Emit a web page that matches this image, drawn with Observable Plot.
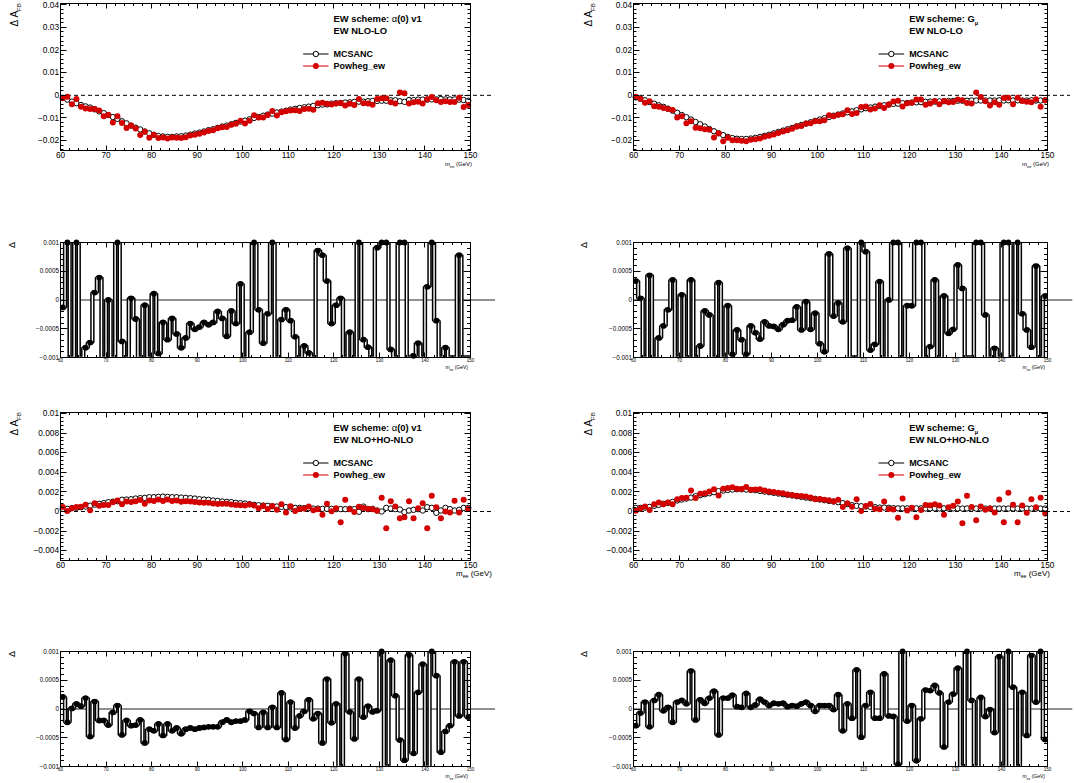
<!DOCTYPE html>
<html><head><meta charset="utf-8">
<script src="https://cdn.jsdelivr.net/npm/d3@7"></script>
<script src="https://cdn.jsdelivr.net/npm/@observablehq/plot@0.6"></script>
<style>
body{margin:0;background:#fff;}
#wrap{position:relative;width:1074px;height:783px;overflow:hidden;background:#fff;font-family:"Liberation Sans",Arial,sans-serif;}
#wrap svg{position:absolute;overflow:visible;}
</style></head><body><div id="wrap"></div>
<script>
// ---------------- data ----------------
const massCenters = [60.5,61.5,62.5,63.5,64.5,65.5,66.5,67.5,68.5,69.5,70.5,71.5,72.5,73.5,74.5,75.5,76.5,77.5,78.5,79.5,
80.5,81.5,82.5,83.5,84.5,85.5,86.5,87.5,88.5,89.5,90.5,91.5,92.5,93.5,94.5,95.5,96.5,97.5,98.5,99.5,
100.5,101.5,102.5,103.5,104.5,105.5,106.5,107.5,108.5,109.5,110.5,111.5,112.5,113.5,114.5,115.5,116.5,117.5,118.5,119.5,
120.5,121.5,122.5,123.5,124.5,125.5,126.5,127.5,128.5,129.5,130.5,131.5,132.5,133.5,134.5,135.5,136.5,137.5,138.5,139.5,
140.5,141.5,142.5,143.5,144.5,145.5,146.5,147.5,148.5,149.5];
const binHalfWidth = 0.5;
const xTickLabels = [60,70,80,90,100,110,120,130,140,150];

// alpha(0) v1, NLO-LO
const alphaNloMcsanc = [-0.0012,-0.0019,-0.0028,-0.0035,-0.0043,-0.0049,-0.0054,-0.0062,-0.0071,-0.0079,
-0.0087,-0.0096,-0.0104,-0.0115,-0.0124,-0.0134,-0.0143,-0.0151,-0.016,-0.0168,
-0.0175,-0.018,-0.0182,-0.0184,-0.0184,-0.0182,-0.0181,-0.0178,-0.0174,-0.0169,
-0.0165,-0.016,-0.0154,-0.015,-0.0144,-0.0138,-0.0134,-0.0128,-0.0122,-0.0116,
-0.0112,-0.0106,-0.01,-0.0096,-0.009,-0.0085,-0.0081,-0.0076,-0.0072,-0.0068,
-0.0063,-0.006,-0.0056,-0.0053,-0.005,-0.0047,-0.0044,-0.0041,-0.004,-0.0037,
-0.0035,-0.0034,-0.0032,-0.0031,-0.0029,-0.0028,-0.0028,-0.0026,-0.0025,-0.0025,
-0.0024,-0.0024,-0.0022,-0.0022,-0.0026,-0.0029,-0.0021,-0.0021,-0.0019,-0.0019,
-0.0019,-0.0018,-0.0018,-0.0016,-0.0018,-0.0018,-0.0018,-0.0019,-0.0021,-0.0024];
const alphaNloPowheg = [-0.0012,-0.0006,-0.004,-0.0016,-0.005,-0.0058,-0.0061,-0.006,-0.0067,-0.0093,
-0.0087,-0.012,-0.0093,-0.0122,-0.0145,-0.0134,-0.0147,-0.0175,-0.0161,-0.0188,
-0.0174,-0.0189,-0.0186,-0.0191,-0.0187,-0.0188,-0.0189,-0.0185,-0.0178,-0.0174,
-0.017,-0.0164,-0.0158,-0.0154,-0.0146,-0.0141,-0.014,-0.013,-0.0126,-0.0113,
-0.0125,-0.0112,-0.0088,-0.0098,-0.0098,-0.0087,-0.0069,-0.0089,-0.0075,-0.007,
-0.0067,-0.0066,-0.0069,-0.0061,-0.0059,-0.0064,-0.0035,-0.0033,-0.0037,-0.0041,
-0.0036,-0.0034,-0.0045,-0.0037,-0.0043,-0.0016,-0.0035,-0.0036,-0.0042,-0.0016,
-0.0013,-0.0013,-0.0031,-0.0036,0.0012,0.0009,-0.0036,-0.0031,-0.0028,-0.0036,
-0.0017,-0.0007,-0.0022,-0.003,-0.0026,-0.003,-0.003,-0.0011,-0.0052,-0.0043];
const alphaNloDelta = [-0.00013,0.0012,-0.0012,0.0012,-0.0012,-0.00083,-0.00074,0.00013,0.00039,-0.0012,
0.0,-0.0012,0.0012,-0.00072,-0.0012,0.00003,-0.00033,-0.0012,-0.00009,-0.0012,
0.00011,-0.00093,-0.00039,-0.00069,-0.00032,-0.00059,-0.00083,-0.00066,-0.00041,-0.00051,
-0.00047,-0.00039,-0.00043,-0.00039,-0.0002,-0.00032,-0.00063,-0.00019,-0.00041,0.00028,
-0.0012,-0.00056,0.0012,-0.00017,-0.00075,-0.00024,0.0012,-0.0012,-0.00034,-0.00017,
-0.00036,-0.00064,-0.0012,-0.0008,-0.00092,-0.0012,0.00086,0.00078,0.00033,-0.00041,
-0.00009,0.00003,-0.0012,-0.00056,-0.0012,0.0012,-0.00069,-0.00082,-0.0012,0.00091,
0.0012,0.0012,-0.00086,-0.0012,0.0012,0.0012,-0.0012,-0.00097,-0.00075,-0.0012,
0.00023,0.0012,-0.00036,-0.0012,-0.00083,-0.0012,-0.0012,0.00078,-0.0012,-0.0012];

// G_mu, NLO-LO
const gmuNloMcsanc = [-0.0009,-0.0015,-0.0022,-0.003,-0.0037,-0.0044,-0.0051,-0.0059,-0.0068,-0.0077,
-0.0087,-0.0097,-0.0107,-0.0118,-0.0128,-0.0138,-0.0149,-0.0159,-0.0168,-0.0176,
-0.0184,-0.0189,-0.0192,-0.0193,-0.0193,-0.0191,-0.0188,-0.0184,-0.0179,-0.0174,
-0.0168,-0.0162,-0.0156,-0.015,-0.0144,-0.0137,-0.0131,-0.0125,-0.0119,-0.0113,
-0.0107,-0.0101,-0.0096,-0.009,-0.0085,-0.008,-0.0075,-0.0071,-0.0066,-0.0062,
-0.0057,-0.0054,-0.005,-0.0047,-0.0044,-0.0041,-0.0038,-0.0037,-0.0035,-0.0034,
-0.0032,-0.0031,-0.003,-0.0029,-0.0028,-0.0028,-0.0027,-0.0026,-0.0025,-0.0025,
-0.0024,-0.0024,-0.0024,-0.0023,-0.0023,-0.0023,-0.0023,-0.0023,-0.0023,-0.0022,
-0.0023,-0.0022,-0.0023,-0.0022,-0.0023,-0.0023,-0.0022,-0.0023,-0.0023,-0.0022];
const gmuNloPowheg = [-0.0006,-0.0015,-0.0033,-0.0026,-0.0048,-0.0051,-0.0056,-0.0061,-0.0065,-0.0098,
-0.0093,-0.0124,-0.0115,-0.0143,-0.0146,-0.015,-0.0152,-0.0186,-0.0168,-0.0203,
-0.0188,-0.0199,-0.0199,-0.0201,-0.0203,-0.0196,-0.0194,-0.0191,-0.0183,-0.0179,
-0.0173,-0.0167,-0.016,-0.0154,-0.0148,-0.0138,-0.0136,-0.0125,-0.0124,-0.0115,
-0.0115,-0.011,-0.0088,-0.0093,-0.0086,-0.0084,-0.0066,-0.0083,-0.0078,-0.0052,
-0.0049,-0.0063,-0.0058,-0.0044,-0.0056,-0.0041,-0.0027,-0.0024,-0.0049,-0.0035,
-0.0033,-0.0019,-0.0019,-0.0042,-0.0036,-0.0025,-0.004,-0.0025,-0.0031,-0.003,
-0.0018,-0.0022,-0.0034,-0.0036,0.0012,-0.0007,-0.0026,-0.0045,-0.0031,-0.0042,
-0.0012,-0.0011,-0.004,-0.0011,-0.0025,-0.0028,-0.0031,-0.0017,-0.0051,-0.0022];
const gmuNloDelta = [0.00033,0.00003,-0.0012,0.00043,-0.0012,-0.00066,-0.00045,-0.00017,0.00035,-0.0012,
0.00009,-0.0012,0.00035,-0.0012,-0.0008,-0.00019,-0.00026,-0.0012,0.0003,-0.0012,
-0.0001,-0.00094,-0.00052,-0.00069,-0.00094,-0.00045,-0.00057,-0.00068,-0.00038,-0.00045,
-0.00046,-0.00051,-0.00043,-0.00036,-0.00035,-0.00012,-0.00052,-0.00003,-0.00051,-0.00023,
-0.00076,-0.0009,0.0008,-0.00028,-0.00005,-0.00038,0.0009,-0.0012,-0.0012,0.0012,
0.00084,-0.00087,-0.00077,0.00032,-0.0012,0.0,0.0012,0.0012,-0.0012,-0.0001,
-0.0001,0.0012,0.0012,-0.0012,-0.00081,0.00035,-0.0012,0.00007,-0.00058,-0.00051,
0.00061,0.0002,-0.0012,-0.0012,0.0012,0.0012,-0.00026,-0.0012,-0.00084,-0.0012,
0.0012,0.0012,-0.0012,0.0012,-0.00024,-0.00052,-0.00082,0.00059,-0.0012,0.00007];

// alpha(0) v1, NLO+HO-NLO
const alphaHoMcsanc = [0.00027,0.00027,0.00034,0.00037,0.00044,0.0005,0.0006,0.0007,0.00078,0.00085,
0.00095,0.001,0.00105,0.0012,0.00122,0.00125,0.00132,0.00136,0.00139,0.00146,
0.00146,0.00149,0.00152,0.00149,0.00146,0.00146,0.00142,0.00139,0.00136,0.00132,
0.00125,0.00122,0.00119,0.00112,0.00108,0.00102,0.00098,0.00095,0.00088,0.00085,
0.00081,0.00075,0.00068,0.00064,0.00061,0.00058,0.00054,0.00051,0.00047,0.00044,
0.00041,0.00037,0.00037,0.00034,0.00034,0.0003,0.0003,0.00027,0.00027,0.00027,
0.00024,0.00024,0.00024,0.00027,0.00024,-0.00003,0.0005,0.00024,0.00027,0.0001,
0.0,0.00037,0.0003,0.00024,0.0002,-0.00007,0.0001,0.00017,0.00024,0.0001,
0.00044,0.00037,-0.00014,0.0001,0.00037,0.00024,0.0001,0.00017,0.00037,0.00037];
const alphaHoPowheg = [0.00045,0.00004,0.00034,0.00046,0.00049,0.00069,0.00012,0.00083,0.00058,0.00065,
0.00067,0.00094,0.00111,0.00075,0.00102,0.00096,0.00104,0.00117,0.0008,0.00111,
0.00108,0.00123,0.00106,0.00123,0.00108,0.00113,0.00099,0.00104,0.00103,0.00097,
0.00092,0.0009,0.00088,0.00081,0.00077,0.00079,0.00079,0.00072,0.00067,0.00064,
0.00062,0.00071,0.0006,0.00032,0.00055,0.00026,0.00057,0.00019,0.00075,-0.00009,
0.00053,0.00004,0.00025,0.0003,0.0005,0.00013,0.00022,-0.00032,0.00079,0.00003,
0.00033,-0.0011,0.0012,0.00022,-0.00005,0.00049,0.00036,0.00029,0.00022,0.00007,
0.0014,-0.0017,0.00105,0.0005,-0.0007,-0.0006,0.00105,-0.0007,0.00033,0.00085,
-0.0017,0.0016,0.00044,-0.00068,0.0,-0.0001,0.0011,-0.0001,0.0012,0.00025];
const alphaHoDelta = [0.00021,-0.00023,0.00001,0.00009,0.00005,0.00019,-0.00048,0.00013,-0.0002,-0.0002,
-0.00028,-0.00006,0.00006,-0.00045,-0.0002,-0.00029,-0.00028,-0.00019,-0.00059,-0.00035,
-0.00038,-0.00026,-0.00046,-0.00026,-0.00038,-0.00033,-0.00043,-0.00035,-0.00033,-0.00035,
-0.00033,-0.00032,-0.00031,-0.00031,-0.00031,-0.00023,-0.00019,-0.00023,-0.00021,-0.00021,
-0.00019,-0.00004,-0.00008,-0.00032,-0.00006,-0.00032,0.00003,-0.00032,0.00028,-0.00053,
0.00012,-0.00033,-0.00012,-0.00004,0.00016,-0.00017,-0.00008,-0.00059,0.00052,-0.00024,
0.00009,-0.0012,0.00096,-0.00005,-0.00052,0.00052,-0.00014,0.00005,-0.00005,-0.00003,
0.0012,-0.0012,0.00085,0.00023,-0.00054,-0.00089,0.00094,-0.00077,0.00029,0.00078,
-0.0012,0.0012,0.00058,-0.00075,-0.00039,-0.00029,0.00082,-0.00012,0.00082,-0.00014];

// G_mu, NLO+HO-NLO
const gmuHoMcsanc = [0.00037,0.00037,0.0004,0.00047,0.00058,0.00068,0.00078,0.00088,0.00098,0.00112,
0.00122,0.00132,0.00142,0.00156,0.00166,0.00176,0.00186,0.00197,0.00207,0.00214,
0.0022,0.00224,0.00227,0.00227,0.00224,0.0022,0.00217,0.0021,0.00203,0.00197,
0.0019,0.00183,0.00176,0.0017,0.00163,0.00156,0.00149,0.00142,0.00136,0.00129,
0.00122,0.00115,0.00108,0.00102,0.00095,0.00085,0.00075,0.00064,0.00058,0.00054,
0.00051,0.00047,0.00044,0.0004,0.0004,0.00037,0.00034,0.00032,0.00032,0.00032,
0.00031,0.00032,0.00032,0.00031,0.00032,0.00031,0.00031,0.00032,0.00031,0.00031,
0.00031,0.0003,0.00031,0.0003,0.0003,0.00031,0.0003,0.0003,0.0003,0.0003,
0.0003,0.0003,0.0003,0.0003,0.0003,0.0003,0.0003,0.0003,0.0003,0.0003];
const gmuHoPowheg = [0.00008,0.0003,0.00052,0.00016,0.00073,0.00093,0.00075,0.00091,0.00075,0.00124,
0.00137,0.00141,0.00215,0.00137,0.00182,0.00186,0.00205,0.00228,0.00162,0.00233,
0.00239,0.00248,0.00231,0.0023,0.00251,0.00223,0.00224,0.00227,0.00215,0.00203,
0.002,0.00192,0.00186,0.00174,0.00169,0.00161,0.00158,0.00154,0.00142,0.00125,
0.00128,0.00121,0.00114,0.00101,0.0012,0.00047,0.00084,0.00048,0.00126,0.00005,
0.00057,0.00076,0.00028,0.00024,0.00101,0.00025,0.0002,-0.00064,0.00133,0.00011,
0.00038,-0.00058,0.00015,0.00065,0.00064,0.00073,0.0006,-0.00034,0.00044,0.00058,
0.00103,-0.0012,0.0016,0.00047,-0.0009,0.00052,0.00019,0.00031,-0.00009,0.00123,
-0.0011,0.0019,0.0007,-0.0011,0.00061,-0.00014,0.00125,0.00044,0.0014,-0.00021];
const gmuHoDelta = [-0.00029,-0.00007,0.00012,-0.00031,0.00015,0.00025,-0.00003,0.00003,-0.00023,0.00012,
0.00015,0.00009,0.00066,-0.00019,0.00016,0.0001,0.00019,0.00031,-0.00045,0.00019,
0.00019,0.00024,0.00004,0.00003,0.00027,0.00003,0.00007,0.00017,0.00012,0.00006,
0.0001,0.00009,0.0001,0.00004,0.00006,0.00005,0.00009,0.00012,0.00006,-0.00004,
0.00006,0.00006,0.00006,-0.00001,0.00025,-0.00038,0.00009,-0.00016,0.00068,-0.00049,
0.00006,0.00029,-0.00016,-0.00016,0.00061,-0.00012,-0.00013,-0.00096,0.0012,-0.00021,
0.00006,-0.0009,-0.00017,0.00033,0.00032,0.00041,0.00028,-0.00066,0.00012,0.00026,
0.00071,-0.0012,0.0012,0.00015,-0.0012,0.0002,-0.00013,-0.00001,-0.00041,0.00091,
-0.0012,0.0012,0.00038,-0.0012,0.00029,-0.00046,0.00093,0.00012,0.0012,-0.00053];

const yTicksNlo = [-0.02,-0.01,0,0.01,0.02,0.03,0.04];
const yTicksHo = [-0.004,-0.002,0,0.002,0.004,0.006,0.008,0.01];
const yTicksDelta = [-0.001,-0.0005,0,0.0005,0.001];
const schemeLabels = ["EW scheme: ", "EW scheme: G"];
const orderLabels = ["EW NLO-LO", "EW NLO+HO-NLO"];
const seriesNames = ["MCSANC", "Powheg_ew"];

// ---------------- layout / helpers ----------------
const FONT = "Liberation Sans, Arial, Helvetica, sans-serif";
const RED = "#d40000";
const wrap = document.getElementById("wrap");
const cols = [{left: 0, width: 537, ml: 60, mr: 67}, {left: 537, width: 537, ml: 96, mr: 27}];
const rows = [
  {top: 0, height: 200, mt: 3, mb: 50},
  {top: 200, height: 200, mt: 42, mb: 43},
  {top: 400, height: 200, mt: 12, mb: 40},
  {top: 600, height: 183, mt: 51, mb: 17}
];
const fmt = d => d === 0 ? "0" : (d < 0 ? "\u2212" + String(+(-d).toPrecision(6)) : String(+d.toPrecision(6)));

function minorTicks(domain, step) {
  const out = [];
  const n0 = Math.ceil(domain[0] / step - 1e-9), n1 = Math.floor(domain[1] / step + 1e-9);
  for (let k = n0; k <= n1; k++) out.push(k * step);
  return out;
}

function deco(draw) {
  return (index, scales, values, dims) => {
    const g = d3.create("svg:g").attr("text-anchor", "start");
    draw(g, scales, dims);
    return g.node();
  };
}

function frameTicks(cfg) {
  return deco((g, {x, y}, d) => {
    const L = d.marginLeft, R = d.width - d.marginRight, T = d.marginTop, B = d.height - d.marginBottom;
    const p = d3.path();
    const xs = (vals, len) => { for (const v of vals) { const px = Math.round(x(v)); p.moveTo(px, B); p.lineTo(px, B - len); p.moveTo(px, T); p.lineTo(px, T + len); } };
    const ys = (vals, len) => { for (const v of vals) { const py = Math.round(y(v)); p.moveTo(L, py); p.lineTo(L + len, py); p.moveTo(R, py); p.lineTo(R - len, py); } };
    xs(cfg.xMinor, cfg.xMinLen); xs(cfg.xMajor, cfg.xMajLen);
    ys(cfg.yMinor, cfg.yMinLen); ys(cfg.yMajor, cfg.yMajLen);
    g.append("path").attr("d", p.toString()).attr("stroke", "#000").attr("fill", "none")
      .attr("stroke-width", 1).attr("transform", "translate(0.5,0.5)");
  });
}

function yTitle(x, fs, withSub) {
  return deco((g, s, d) => {
    const t = g.append("text").attr("transform", `translate(${x},${d.marginTop}) rotate(-90)`)
      .attr("text-anchor", "end").attr("font-size", fs).attr("font-family", FONT).attr("fill", "#000");
    if (withSub) {
      t.append("tspan").text("\u0394 A");
      t.append("tspan").attr("font-size", fs * 0.62).attr("dy", fs * 0.3).text("FB");
    } else {
      t.text("\u0394");
    }
  });
}

function xTitle(dxEnd, dy, fs) {
  return deco((g, s, d) => {
    const R = d.width - d.marginRight, B = d.height - d.marginBottom;
    const t = g.append("text").attr("x", R + dxEnd).attr("y", B + dy)
      .attr("text-anchor", "end").attr("font-size", fs).attr("font-family", FONT).attr("fill", "#000");
    t.append("tspan").text("m");
    t.append("tspan").attr("font-size", fs * 0.65).attr("dy", fs * 0.3).text("ee");
    t.append("tspan").attr("dy", -fs * 0.3).text(" (GeV)");
  });
}

function legendBox(scheme, order) {
  return deco((g, s, d) => {
    const L = d.marginLeft, R = d.width - d.marginRight, T = d.marginTop;
    const fw = R - L;
    const tx = L + 0.667 * fw, lx0 = L + 0.593 * fw, lx1 = L + 0.655 * fw, cx = (lx0 + lx1) / 2;
    const txt = (y, fs) => g.append("text").attr("x", tx).attr("y", y).attr("dy", "0.35em")
      .attr("text-anchor", "start")
      .attr("font-size", fs).attr("font-weight", "bold").attr("font-family", FONT).attr("fill", "#000");
    const t1 = txt(T + 16, 9.4);
    if (scheme === 0) {
      t1.append("tspan").text(schemeLabels[0]);
      t1.append("tspan").attr("font-weight", "normal").text("\u03b1");
      t1.append("tspan").text("(0) v1");
    } else {
      t1.append("tspan").text(schemeLabels[1]);
      t1.append("tspan").attr("font-size", 5.5).attr("dy", 2.5).text("\u03bc");
    }
    txt(T + 27.5, 9.4).text(orderLabels[order]);
    // legend entries
    const y1 = T + 51, y2 = T + 63;
    g.append("line").attr("x1", lx0).attr("x2", lx1).attr("y1", y1).attr("y2", y1).attr("stroke", "#000").attr("stroke-width", 1);
    g.append("circle").attr("cx", cx).attr("cy", y1).attr("r", 2.7).attr("fill", "#fff").attr("stroke", "#000").attr("stroke-width", 1);
    txt(y1, 9).text(seriesNames[0]);
    g.append("line").attr("x1", lx0).attr("x2", lx1).attr("y1", y2).attr("y2", y2).attr("stroke", "#e05050").attr("stroke-width", 1.5);
    g.append("circle").attr("cx", cx).attr("cy", y2).attr("r", 3).attr("fill", RED);
    txt(y2, 9).text(seriesNames[1]);
  });
}

function place(svg, col, row) {
  svg.style.left = col.left + "px";
  svg.style.top = row.top + "px";
  wrap.appendChild(svg);
}

function mainPanel(ci, ri, yDomain, yTicks, yMinorStep, mcs, pow, scheme, order) {
  const col = cols[ci], row = rows[ri];
  const pts = massCenters.map((m, i) => ({m, mcs: mcs[i], pow: pow[i]}));
  const svg = Plot.plot({
    width: col.width, height: row.height,
    marginLeft: col.ml, marginRight: col.mr, marginTop: row.mt, marginBottom: row.mb,
    x: {domain: [60, 150]},
    y: {domain: yDomain},
    style: {fontFamily: FONT, background: "transparent", overflow: "visible", color: "#000"},
    marks: [
      Plot.ruleY([0], {x1: 60, x2: 155, stroke: "#000", strokeWidth: 1, strokeDasharray: "4,3"}),
      Plot.dot(pts, {x: "m", y: "mcs", r: 2.7, fill: "#fff", stroke: "#000", strokeWidth: 1}),
      Plot.dot(pts, {x: "m", y: "pow", r: 3, fill: RED, stroke: "none"}),
      Plot.frame({stroke: "#000"}),
      frameTicks({xMajor: xTickLabels, xMinor: minorTicks([60,150], 2), xMajLen: 5, xMinLen: 2.5,
                  yMajor: yTicks, yMinor: minorTicks(yDomain, yMinorStep), yMajLen: 6, yMinLen: 3}),
      Plot.axisX({ticks: xTickLabels, tickSize: 0, tickPadding: 2, fontSize: 8.3, label: null, tickFormat: d => String(d)}),
      Plot.axisY({ticks: yTicks, tickSize: 0, tickPadding: 1.5, fontSize: 8.3, label: null, tickFormat: fmt}),
      yTitle(ci === 0 ? 18 : 592 - 537, 10, true),
      xTitle(ri === 2 ? (ci === 0 ? 22 : 3) : 2, 16, ri === 2 ? 8 : 6),
      legendBox(scheme, order)
    ]
  });
  place(svg, col, row);
}

function deltaPanel(ci, ri, vals) {
  const col = cols[ci], row = rows[ri];
  const lo = -0.001, hi = 0.001;
  const steps = [];
  massCenters.forEach((m, i) => {
    const v = Math.max(lo, Math.min(hi, vals[i]));
    steps.push({x: m - binHalfWidth, y: v}, {x: m + binHalfWidth, y: v});
  });
  const dots = massCenters.map((m, i) => ({m, v: vals[i]})).filter(d => d.v >= lo)
    .map(d => ({m: d.m, v: Math.min(hi, d.v)}));
  const svg = Plot.plot({
    width: col.width, height: row.height,
    marginLeft: col.ml, marginRight: col.mr, marginTop: row.mt, marginBottom: row.mb,
    x: {domain: [60, 150]},
    y: {domain: [lo, hi]},
    style: {fontFamily: FONT, background: "transparent", overflow: "visible", color: "#000"},
    marks: [
      Plot.ruleY([0], {x1: 60, x2: 155.5, stroke: "#222", strokeWidth: 1}),
      Plot.line(steps, {x: "x", y: "y", stroke: "#000", strokeWidth: 4.4, strokeLinejoin: "miter", clip: true}),
      Plot.line(steps, {x: "x", y: "y", stroke: "#fff", strokeWidth: 1.4, strokeLinejoin: "miter", clip: true}),
      Plot.dot(dots, {x: "m", y: "v", r: 2.9, fill: "#000"}),
      Plot.frame({stroke: "#000"}),
      frameTicks({xMajor: xTickLabels, xMinor: minorTicks([60,150], 2), xMajLen: 5, xMinLen: 2.5,
                  yMajor: yTicksDelta, yMinor: minorTicks([lo, hi], 0.0001), yMajLen: 7, yMinLen: 3.5}),
      Plot.axisX({ticks: xTickLabels, tickSize: 0, tickPadding: 1.5, fontSize: 4.5, label: null, tickFormat: d => String(d)}),
      Plot.axisY({ticks: yTicksDelta, tickSize: 0, tickPadding: 1.5, fontSize: 6.3, label: null, tickFormat: fmt}),
      yTitle(ci === 0 ? 15 : 587 - 537, 9, false),
      xTitle(-2, 12, 5)
    ]
  });
  place(svg, col, row);
}

mainPanel(0, 0, [-0.0244, 0.0406], yTicksNlo, 0.002, alphaNloMcsanc, alphaNloPowheg, 0, 0);
mainPanel(1, 0, [-0.0244, 0.0406], yTicksNlo, 0.002, gmuNloMcsanc, gmuNloPowheg, 1, 0);
deltaPanel(0, 1, alphaNloDelta);
deltaPanel(1, 1, gmuNloDelta);
mainPanel(0, 2, [-0.005, 0.0101], yTicksHo, 0.0004, alphaHoMcsanc, alphaHoPowheg, 0, 1);
mainPanel(1, 2, [-0.005, 0.0101], yTicksHo, 0.0004, gmuHoMcsanc, gmuHoPowheg, 1, 1);
deltaPanel(0, 3, alphaHoDelta);
deltaPanel(1, 3, gmuHoDelta);
</script></body></html>
